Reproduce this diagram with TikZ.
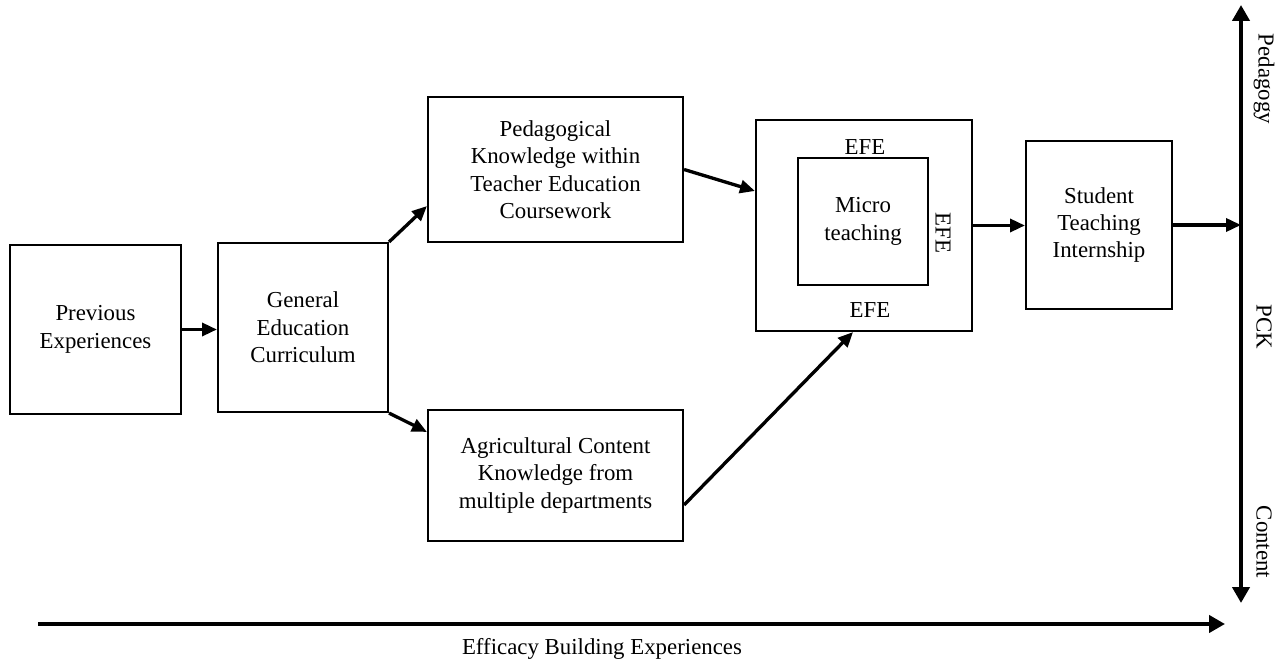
\documentclass[tikz,border=0pt]{standalone}
\usepackage{fontspec}
\setmainfont{Liberation Serif}
\usetikzlibrary{arrows.meta, calc}

\begin{document}
\begin{tikzpicture}[
    x=1cm, y=1cm, font=\fontsize{13}{15.6}\selectfont,
    blk/.style={draw, line width=1.2pt, inner sep=0pt, align=center},
    arr/.style={-{Triangle[length=8.5pt, width=7.4pt]}, line width=1.9pt},
    axis/.style={{Triangle[length=9pt, width=9.6pt]}-{Triangle[length=9pt, width=9.6pt]}, line width=2.2pt},
    lbl/.style={inner sep=1pt},
]
\useasboundingbox (0,0) rectangle (25.72,13.28);

% ---------------------------------------------------------------
% Bloques
% ---------------------------------------------------------------
\node[blk, minimum width=3.42cm, minimum height=3.38cm] (prev) at (1.91,6.69)
      {Previous\\Experiences};
\node[blk, minimum width=3.40cm, minimum height=3.38cm] (ged) at (6.06,6.73)
      {General\\Education\\Curriculum};
\node[blk, minimum width=5.10cm, minimum height=2.90cm] (ped) at (11.11,9.89)
      {Pedagogical\\Knowledge within\\Teacher Education\\Coursework};
\node[blk, minimum width=5.10cm, minimum height=2.62cm] (agri) at (11.11,3.77)
      {Agricultural Content\\Knowledge from\\multiple departments};

\node[blk, minimum width=4.32cm, minimum height=4.22cm] (efe) at (17.28,8.77) {};
\node[blk, minimum width=2.60cm, minimum height=2.54cm] (micro) at (17.26,8.85)
      {Micro\\teaching};
\node[lbl] (efetop) at (17.30,10.34) {EFE};
\node[lbl, rotate=-90] (eferight) at (18.86,8.62) {EFE};
\node[lbl] (efebot) at (17.40,7.08) {EFE};

\node[blk, minimum width=2.92cm, minimum height=3.36cm] (stu) at (21.98,8.78)
      {Student\\Teaching\\Internship};

% ---------------------------------------------------------------
% Ejes
% ---------------------------------------------------------------
\coordinate (vtop) at (24.82,13.18);
\coordinate (vbot) at (24.82,1.22);
\coordinate (hleft) at (0.76,0.80);
\coordinate (hright) at (24.50,0.80);

\draw[axis] (vbot) -- (vtop);
\draw[arr, line width=2.2pt, -{Triangle[length=9pt, width=9.6pt]}] (hleft) -- (hright);

\node[lbl, rotate=-90] (pedag) at (25.28,11.70) {Pedagogy};
\node[lbl, rotate=-90] (pck) at (25.28,6.74) {PCK};
\node[lbl, rotate=-90] (cont) at (25.28,2.44) {Content};
\node[lbl] (ebe) at (12.04,0.30) {Efficacy Building Experiences};

% ---------------------------------------------------------------
% Flechas
% ---------------------------------------------------------------
\draw[arr] (prev.east) -- (prev.east -| ged.west);
\draw[arr] (ged.north east) -- ([yshift=0.74cm]ped.south west);
\draw[arr] (ged.south east) -- ([yshift=-0.46cm]agri.north west);
\draw[arr] (ped.east) -- ([yshift=0.69cm]efe.west);
\draw[arr] ([yshift=-0.59cm]agri.east) -- ([xshift=-0.22cm]efe.south);
\draw[arr] (efe.east) -- (efe.east -| stu.west);
\draw[arr] (stu.east) -- (stu.east -| vtop);

\end{tikzpicture}
\end{document}
